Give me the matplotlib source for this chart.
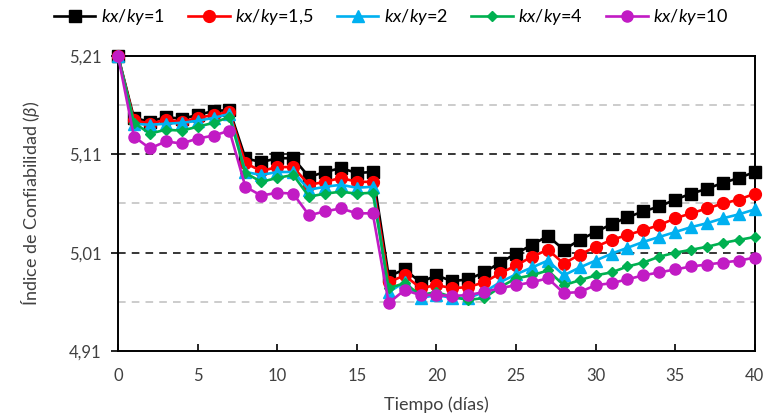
import matplotlib

matplotlib.use("Agg")
import matplotlib.pyplot as plt
from matplotlib.ticker import FixedLocator, FuncFormatter

# Reliability index over time for different permeability ratios
days = list(range(41))

beta_kx1 = [5.210, 5.147, 5.143, 5.148, 5.146, 5.150, 5.154, 5.155, 5.106, 5.102,
            5.106, 5.106, 5.087, 5.092, 5.096, 5.091, 5.092, 4.986, 4.993, 4.980,
            4.987, 4.981, 4.983, 4.990, 5.000, 5.009, 5.018, 5.027, 5.013, 5.023,
            5.031, 5.039, 5.046, 5.052, 5.057, 5.064, 5.070, 5.075, 5.081, 5.086,
            5.092]
beta_kx15 = [5.210, 5.145, 5.141, 5.145, 5.143, 5.147, 5.150, 5.153, 5.101, 5.093,
             5.097, 5.097, 5.079, 5.082, 5.086, 5.082, 5.082, 4.980, 4.987, 4.974,
             4.977, 4.974, 4.975, 4.980, 4.989, 4.997, 5.006, 5.013, 4.999, 5.008,
             5.016, 5.023, 5.028, 5.033, 5.038, 5.045, 5.050, 5.055, 5.060, 5.064,
             5.070]
beta_kx2 = [5.210, 5.141, 5.140, 5.141, 5.142, 5.144, 5.147, 5.151, 5.092, 5.089,
            5.092, 5.092, 5.074, 5.077, 5.079, 5.076, 5.077, 4.970, 4.980, 4.964,
            4.967, 4.964, 4.964, 4.970, 4.980, 4.988, 4.995, 5.002, 4.987, 4.995,
            5.002, 5.009, 5.015, 5.021, 5.026, 5.031, 5.036, 5.040, 5.045, 5.049,
            5.054]
beta_kx4 = [5.210, 5.142, 5.131, 5.135, 5.134, 5.138, 5.142, 5.148, 5.091, 5.082,
            5.086, 5.089, 5.067, 5.070, 5.072, 5.070, 5.071, 4.974, 4.979, 4.967,
            4.970, 4.965, 4.962, 4.964, 4.975, 4.984, 4.987, 4.992, 4.977, 4.982,
            4.987, 4.990, 4.996, 5.000, 5.006, 5.010, 5.013, 5.016, 5.020, 5.023,
            5.026]
beta_kx10 = [5.210, 5.128, 5.116, 5.123, 5.121, 5.126, 5.129, 5.134, 5.077, 5.068,
             5.071, 5.070, 5.048, 5.052, 5.055, 5.050, 5.050, 4.959, 4.972, 4.967,
             4.967, 4.966, 4.967, 4.970, 4.974, 4.977, 4.980, 4.984, 4.969, 4.970,
             4.977, 4.979, 4.983, 4.987, 4.990, 4.993, 4.996, 4.998, 5.000, 5.002,
             5.005]

ratio_labels = ["1", "1,5", "2", "4", "10"]
y_major = [4.91, 5.01, 5.11, 5.21]
y_minor = [4.96, 5.06, 5.16]

plt.rcParams.update(
    {
        "font.family": ["Lato", "DejaVu Sans"],
        "font.size": 11,
        "mathtext.fontset": "custom",
        "mathtext.rm": "Lato",
        "mathtext.it": "Lato:italic",
        "mathtext.bf": "Lato:bold",
    }
)

fig = plt.figure(figsize=(7.64, 4.17), dpi=100)
fig.patch.set_facecolor("#FFFFFF")
ax = fig.add_axes([0.1545, 0.158, 0.8335, 0.708])

styles = [
    (beta_kx1, "#000000", "s", 8.5),
    (beta_kx15, "#FF0000", "o", 8.5),
    (beta_kx2, "#00B0F0", "^", 8.0),
    (beta_kx4, "#00B050", "D", 5.5),
    (beta_kx10, "#C11BC4", "o", 8.0),
]
for (values, color, marker, size), ratio in zip(styles, ratio_labels):
    ax.plot(
        days,
        values,
        color=color,
        marker=marker,
        markersize=size,
        linewidth=1.9,
        label=rf"$kx/ky$={ratio}",
        clip_on=False,
        zorder=3,
    )

# dashed reference lines: black on labelled values, grey halfway between
for y in y_major[1:3]:
    ax.axhline(y, color="#000000", linestyle=(0, (5, 4)), linewidth=1.1, zorder=1)
for y in y_minor:
    ax.axhline(y, color="#BFBFBF", linestyle=(0, (5, 4)), linewidth=1.1, zorder=1)

ax.set_xlim(0, 40)
ax.set_ylim(4.91, 5.21)
ax.set_xticks(range(0, 41, 5))
ax.yaxis.set_major_locator(FixedLocator(y_major))
ax.yaxis.set_major_formatter(FuncFormatter(lambda v, _: f"{v:.2f}".replace(".", ",")))
ax.tick_params(axis="x", direction="in", length=5, width=1.2, labelsize=12,
               labelcolor="#404040", pad=12)
ax.tick_params(axis="y", direction="out", length=5, width=1.2, labelsize=12,
               labelcolor="#404040", pad=7)
for spine in ax.spines.values():
    spine.set_linewidth(1.4)
    spine.set_color("#000000")

ax.set_xlabel("Tiempo (días)", fontsize=13, color="#404040", labelpad=9)
ax.set_ylabel(r"Índice de Confiabilidad ($\beta$)", fontsize=13, color="#404040", labelpad=19)

fig.legend(
    loc="center",
    bbox_to_anchor=(391 / 764, 0.959),
    ncol=5,
    frameon=False,
    fontsize=13,
    handlelength=2.3,
    columnspacing=1.3,
    handletextpad=0.3,
)

fig.savefig("out.png", dpi=100, facecolor="#FFFFFF")
plt.close(fig)
